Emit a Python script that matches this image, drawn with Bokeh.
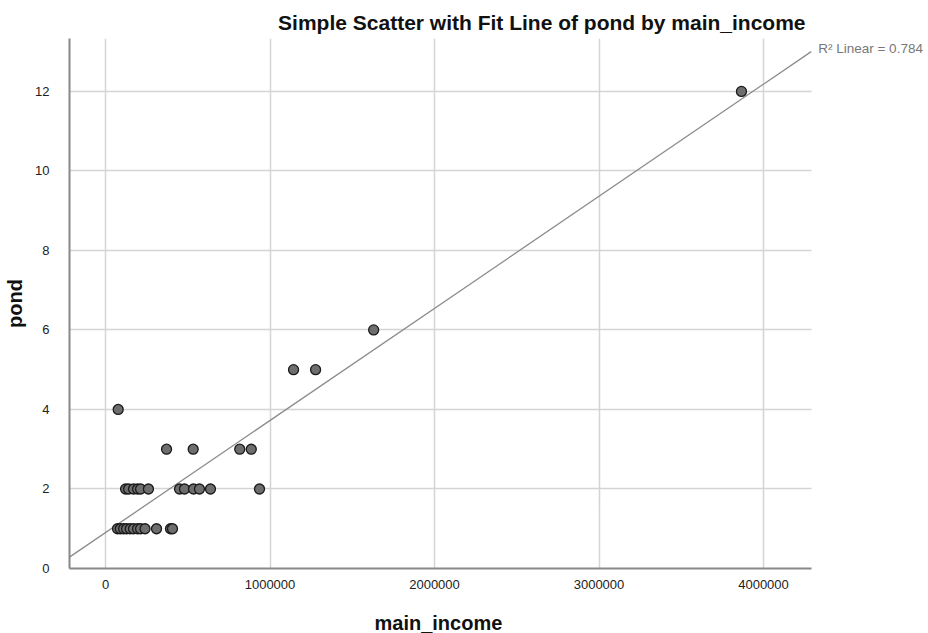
import numpy as np
from bokeh.plotting import figure
from bokeh.models import Range1d, FixedTicker, NumeralTickFormatter, Label, ColumnDataSource, Title
from bokeh.embed import file_html
from bokeh.resources import INLINE

# data
main_income = [77000,
               371000, 533000, 816000, 886000,
               122000, 140000, 170000, 195000, 213000, 261000, 450000, 480000, 535000, 571000, 638000, 936000,
               73000, 90000, 110000, 128000, 150000, 170000, 195000, 213000, 240000, 310000, 395000, 407000,
               1143000, 1277000,
               1630000,
               3866000]
pond = [4,
        3, 3, 3, 3,
        2, 2, 2, 2, 2, 2, 2, 2, 2, 2, 2, 2,
        1, 1, 1, 1, 1, 1, 1, 1, 1, 1, 1, 1,
        5, 5,
        6,
        12]
x_ticks = [0, 1000000, 2000000, 3000000, 4000000]
y_ticks = [0, 2, 4, 6, 8, 10, 12]
r2_text = "R\u00b2 Linear = 0.784"

x_min, x_end = -219000, 4290000      # extent of the drawn axis
x_view_max = 5003000                  # room for the R² note at the right
y_min, y_max = 0, 13.33

FONT = "Liberation Sans"

p = figure(width=928, height=633, output_backend="svg", toolbar_location=None,
           x_range=Range1d(x_min, x_view_max), y_range=Range1d(y_min, y_max),
           title="Simple Scatter with Fit Line of pond by main_income",
           min_border_left=69, min_border_right=0, min_border_top=38, min_border_bottom=65)
p.outline_line_color = None
p.background_fill_color = "white"
p.border_fill_color = "white"

p.title.text_font = FONT
p.title.text_font_size = "21px"
p.title.text_font_style = "bold"
p.title.align = "right"
p.title.offset = 123
p.title.text_color = "#111111"

for ax in (p.xaxis[0], p.yaxis[0]):
    ax.axis_line_color = "#888888"
    ax.axis_line_width = 2
    ax.major_tick_line_color = None
    ax.minor_tick_line_color = None
    ax.major_label_text_font = FONT
    ax.major_label_text_font_size = "13px"
    ax.major_label_text_color = "#222222"
    ax.axis_label_text_font = FONT
    ax.axis_label_text_font_size = "20px"
    ax.axis_label_text_font_style = "bold"
    ax.axis_label_text_color = "#111111"

p.xaxis.bounds = (x_min, x_end)
p.yaxis.axis_label = "pond"
p.xaxis.ticker = FixedTicker(ticks=x_ticks)
p.yaxis.ticker = FixedTicker(ticks=y_ticks)
p.xaxis.formatter = NumeralTickFormatter(format="0")
p.yaxis.formatter = NumeralTickFormatter(format="0")
p.xaxis.major_label_standoff = 5
p.yaxis.major_label_standoff = 14
p.yaxis.axis_label_standoff = 6

# blank spacer label on the x axis to push the real label down
p.xaxis.axis_label = " "
p.xaxis.axis_label_text_font_size = "2px"
p.xaxis.axis_label_standoff = 13

# x-axis label centred under the drawn axis (not the whole frame)
xlab = Title(text="main_income", align="left", offset=305, standoff=0,
             text_font=FONT, text_font_size="20px", text_font_style="bold", text_color="#111111")
p.add_layout(xlab, "below")

p.xgrid.ticker = FixedTicker(ticks=x_ticks)
p.ygrid.ticker = FixedTicker(ticks=y_ticks)
p.ygrid.cross_bounds = (x_min, x_end)
p.grid.grid_line_color = "#d4d4d4"
p.grid.grid_line_width = 1.5

# linear fit
slope, intercept = np.polyfit(main_income, pond, 1)
fx = [x_min, x_end]
fy = [intercept + slope * v for v in fx]
p.line(fx, fy, line_color="#8c8c8c", line_width=1.3)

src = ColumnDataSource(dict(x=main_income, y=pond))
p.scatter("x", "y", source=src, size=10, fill_color="#6e6e6e", line_color="#1a1a1a", line_width=1.3)

p.add_layout(Label(x=fx[1], y=fy[1], text=r2_text, x_offset=7, y_offset=-4,
                   text_font=FONT, text_font_size="13.5px", text_color="#777777"))

open("out.html", "w").write(file_html(p, INLINE))
